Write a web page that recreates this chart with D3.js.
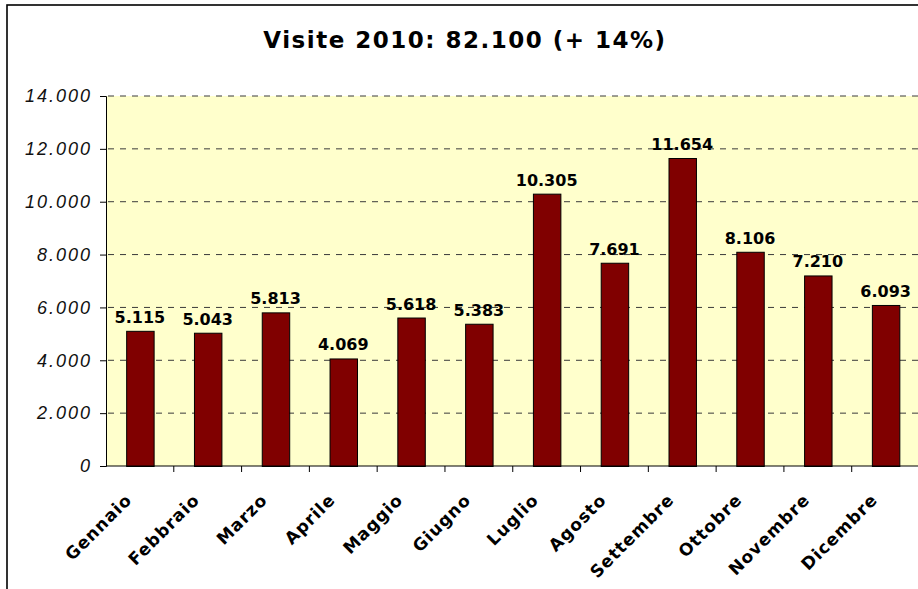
<!DOCTYPE html>
<html>
<head>
<meta charset="utf-8">
<script src="https://cdn.jsdelivr.net/npm/d3@7"></script>
<style>
  body { margin: 0; background: #fff; }
  svg { display: block; font-family: "DejaVu Sans", Verdana, sans-serif; }
</style>
</head>
<body>
<div id="chart"></div>
<script>
// monthly visits 2010
var months = ['Gennaio', 'Febbraio', 'Marzo', 'Aprile', 'Maggio', 'Giugno',
  'Luglio', 'Agosto', 'Settembre', 'Ottobre', 'Novembre', 'Dicembre'];
var visits = [5115, 5043, 5813, 4069, 5618, 5383, 10305, 7691, 11654, 8106, 7210, 6093];
var yTicks = [0, 2000, 4000, 6000, 8000, 10000, 12000, 14000];
var title = 'Visite 2010: 82.100 (+ 14%)';

var W = 918, H = 589;
var margin = {top: 96, right: -1.5, bottom: 123, left: 106};
var width = W - margin.left - margin.right,
  height = H - margin.top - margin.bottom;

var svg = d3.select('#chart').append('svg')
  .attr('width', W)
  .attr('height', H);

// outer chart frame (right/bottom edges fall outside the window)
svg.append('rect')
  .attr('x', 7).attr('y', 5)
  .attr('width', W + 20).attr('height', H + 20)
  .attr('fill', '#fff')
  .attr('stroke', '#000')
  .attr('stroke-width', 1.6);

svg.append('text')
  .attr('x', 465).attr('y', 48)
  .attr('text-anchor', 'middle')
  .style('font-size', '23px')
  .style('font-weight', 'bold')
  .style('letter-spacing', '1.5px')
  .text(title);

var g = svg.append('g').attr('transform', 'translate(' + margin.left + ',' + margin.top + ')');

// italian thousands separator
var fmt = d3.formatLocale({decimal: ',', thousands: '.', grouping: [3], currency: ['€', '']}).format(',d');

var x = d3.scaleBand().domain(months).range([0, width]).paddingInner(0.595).paddingOuter(0.2975);
var xb = d3.scaleBand().domain(months).range([0, width]);
var y = d3.scaleLinear().domain([0, 14000]).range([height, 0]);

g.append('rect')
  .attr('width', width).attr('height', height)
  .attr('fill', '#ffffcc');

// dashed grid
g.selectAll('.grid')
  .data(yTicks.filter(function(d) { return d > 0; }))
  .enter().append('line')
  .attr('class', 'grid')
  .attr('x1', 0).attr('x2', width)
  .attr('y1', function(d) { return y(d); })
  .attr('y2', function(d) { return y(d); })
  .attr('stroke', '#3a3a3a')
  .attr('stroke-dasharray', '6,6')
  .attr('stroke-dashoffset', -2);

g.selectAll('.bar')
  .data(visits)
  .enter().append('rect')
  .attr('class', 'bar')
  .attr('x', function(d, i) { return x(months[i]) + 0.5; })
  .attr('y', function(d) { return y(d) + 0.5; })
  .attr('width', x.bandwidth())
  .attr('height', function(d) { return height - y(d); })
  .attr('fill', '#800000')
  .attr('stroke', '#000')
  .attr('stroke-width', 1);

g.selectAll('.val')
  .data(visits)
  .enter().append('text')
  .attr('class', 'val')
  .attr('x', function(d, i) { return x(months[i]) + x.bandwidth() / 2; })
  .attr('y', function(d) { return y(d) - 8; })
  .attr('text-anchor', 'middle')
  .style('font-size', '16px')
  .style('font-weight', 'bold')
  .text(function(d) { return fmt(d); });

// y axis
var yAxis = g.append('g')
  .call(d3.axisLeft(y).tickValues(yTicks).tickSize(6).tickPadding(8).tickFormat(fmt));
yAxis.select('.domain').attr('stroke', '#000');
yAxis.selectAll('text')
  .style('font-size', '18px')
  .style('font-style', 'italic')
  .style('letter-spacing', '2px')
  .attr('fill', '#111');

// x axis, ticks on band boundaries
var xAxis = g.append('g')
  .attr('transform', 'translate(0,' + height + ')');
xAxis.append('line')
  .attr('x1', 0).attr('x2', width)
  .attr('stroke', '#000');
xAxis.selectAll('.tk')
  .data(months.slice(1))
  .enter().append('line')
  .attr('class', 'tk')
  .attr('x1', function(d) { return xb(d); })
  .attr('x2', function(d) { return xb(d); })
  .attr('y1', 0).attr('y2', 6)
  .attr('stroke', '#000');
xAxis.selectAll('.lbl')
  .data(months)
  .enter().append('text')
  .attr('class', 'lbl')
  .attr('transform', function(d) {
    return 'translate(' + (xb(d) + xb.bandwidth() / 2 - 7) + ',35) rotate(-45)';
  })
  .attr('text-anchor', 'end')
  .style('font-size', '17px')
  .style('font-weight', 'bold')
  .style('letter-spacing', '1px')
  .text(function(d) { return d; });
</script>
</body>
</html>
